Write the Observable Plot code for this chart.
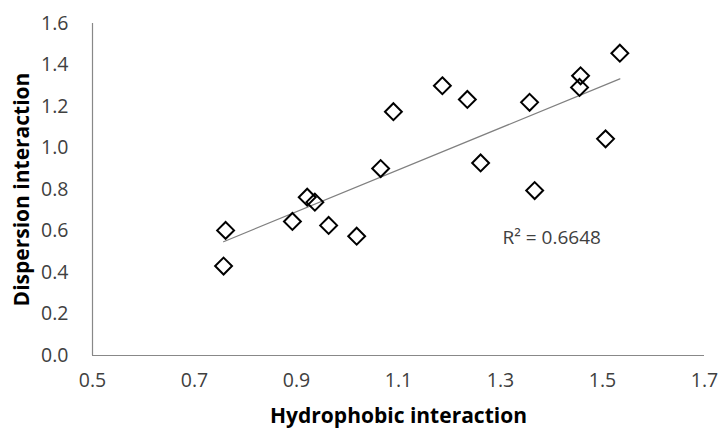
<!DOCTYPE html>
<html>
<head>
<meta charset="utf-8">
<script src="https://cdn.jsdelivr.net/npm/d3@7"></script>
<script src="https://cdn.jsdelivr.net/npm/@observablehq/plot@0.6"></script>
<style>
  html, body { margin: 0; padding: 0; background: #ffffff; }
  #chart svg { display: block; }
</style>
</head>
<body>
<div id="chart"></div>
<script>
// Hydrophobic interaction (x) vs Dispersion interaction (y)
const hydrophobic = [0.757, 0.761, 0.892, 0.921, 0.936, 0.963, 1.018, 1.065, 1.090, 1.186, 1.235, 1.261, 1.357, 1.367, 1.457, 1.455, 1.506, 1.534];
const dispersion  = [0.431, 0.603, 0.646, 0.763, 0.739, 0.627, 0.575, 0.901, 1.175, 1.300, 1.234, 0.928, 1.220, 0.795, 1.348, 1.292, 1.044, 1.457];
const xTicks = [0.5, 0.7, 0.9, 1.1, 1.3, 1.5, 1.7];
const yTicks = [0.0, 0.2, 0.4, 0.6, 0.8, 1.0, 1.2, 1.4, 1.6];
const r2Label = ["R\u00B2 = 0.6648"];
const r2Pos = [{x: 1.304, y: 0.569}];

const points = hydrophobic.map((x, i) => ({x, y: dispersion[i]}));
const font = "'Open Sans', sans-serif";

const chart = Plot.plot({
  width: 719,
  height: 429,
  marginLeft: 92,
  marginRight: 15,
  marginTop: 23,
  marginBottom: 74,
  style: {fontFamily: font, background: "#ffffff"},
  x: {domain: [0.5, 1.7]},
  y: {domain: [0, 1.6]},
  marks: [
    Plot.ruleY([0], {stroke: "#888888", strokeWidth: 1.2}),
    Plot.ruleX([0.5], {stroke: "#888888", strokeWidth: 1.2}),
    Plot.axisX({ticks: xTicks, tickSize: 0, tickPadding: 18, tickFormat: d3.format(".1f"), fontSize: 19.5, fill: "#404040", label: null}),
    Plot.axisY({ticks: yTicks, tickSize: 0, tickPadding: 24, tickFormat: d3.format(".1f"), fontSize: 19.5, fill: "#404040", label: null}),
    Plot.linearRegressionY(points, {x: "x", y: "y", ci: 0, stroke: "#808080", strokeWidth: 1.2}),
    Plot.dot(points, {x: "x", y: "y", symbol: "diamond2", r: 7.6, stroke: "#000000", strokeWidth: 2, fill: "none"}),
    Plot.text(r2Pos, {x: "x", y: "y", text: () => r2Label[0], textAnchor: "start", fontSize: 19, fill: "#404040"}),
    Plot.text(["Hydrophobic interaction"], {frameAnchor: "bottom", dy: 67, text: d => d, fontSize: 21, fontWeight: "bold", fill: "#000000"}),
    Plot.text(["Dispersion interaction"], {frameAnchor: "left", dx: -70, rotate: -90, textAnchor: "middle", text: d => d, fontSize: 21, fontWeight: "bold", fill: "#000000"})
  ]
});
document.getElementById("chart").appendChild(chart);
</script>
</body>
</html>
